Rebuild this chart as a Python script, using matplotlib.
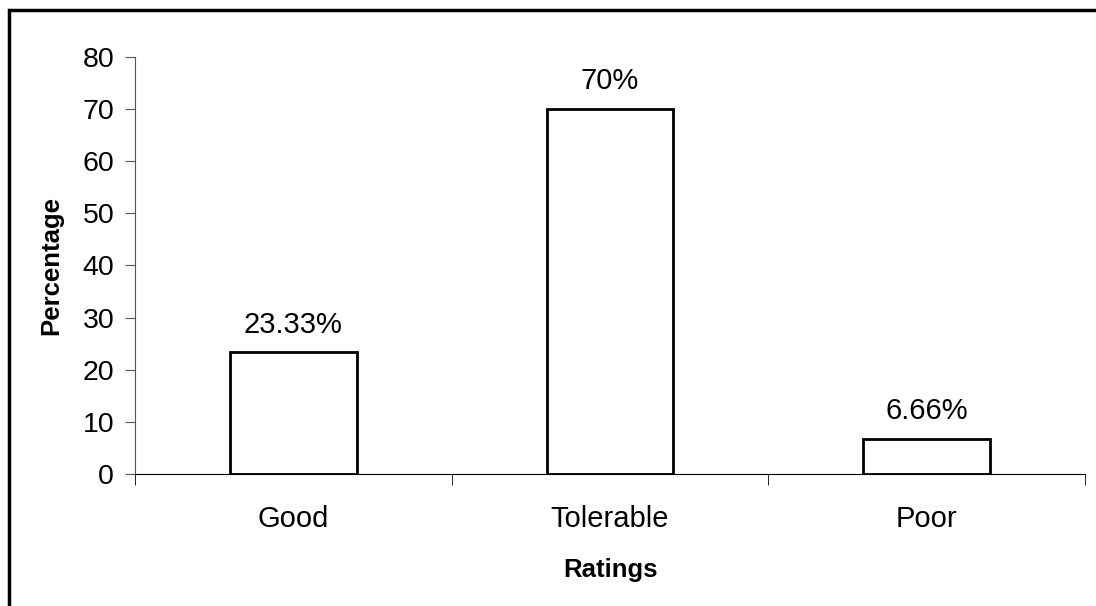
import numpy as np
import matplotlib.pyplot as plt
from matplotlib.patches import Rectangle

plt.rcParams['font.family'] = ['Liberation Sans', 'DejaVu Sans']

# data
ratings = ['Good', 'Tolerable', 'Poor']
percent = [23.33, 70, 6.66]
labels = ['23.33%', '70%', '6.66%']
yticks = [0, 10, 20, 30, 40, 50, 60, 70, 80]

fig = plt.figure(figsize=(10.96, 6.06), dpi=100)
ax = fig.add_axes([0.1232, 0.2178, 0.8668, 0.6882])

x = np.arange(len(ratings))
bars = ax.bar(x, percent, width=0.4, color='white', edgecolor='black', linewidth=2)
for b, lab in zip(bars, labels):
    ax.annotate(lab, (b.get_x() + b.get_width() / 2, b.get_height()),
                xytext=(0, 10), textcoords='offset points',
                ha='center', va='bottom', fontsize=21)

ax.set_xlim(-0.5, len(ratings) - 0.5)
ax.set_ylim(0, 80)
ax.set_yticks(yticks)
ax.set_xticks(x)
ax.set_xticklabels(ratings)
ax.set_xticks(np.arange(len(ratings) + 1) - 0.5, minor=True)
ax.tick_params(axis='x', which='major', length=0, pad=22, labelsize=21)
ax.tick_params(axis='x', which='minor', length=8, direction='out', color='black')
ax.tick_params(axis='y', length=7, direction='out', labelsize=20.5, color='#555555', pad=8)

ax.spines['top'].set_visible(False)
ax.spines['right'].set_visible(False)
ax.spines['left'].set_color('#555555')
ax.spines['bottom'].set_color('black')

ax.set_ylabel('Percentage', fontsize=18.5, fontweight='bold', labelpad=14)
ax.set_xlabel('Ratings', fontsize=18.5, fontweight='bold', labelpad=18)

# outer frame around the chart area
fig.patches.append(Rectangle((9 / 1096, -0.05), 1.1, 1 - 9.5 / 606 + 0.05,
                             transform=fig.transFigure, fill=False,
                             edgecolor='black', linewidth=2.5))

fig.savefig('out.png', dpi=100)
